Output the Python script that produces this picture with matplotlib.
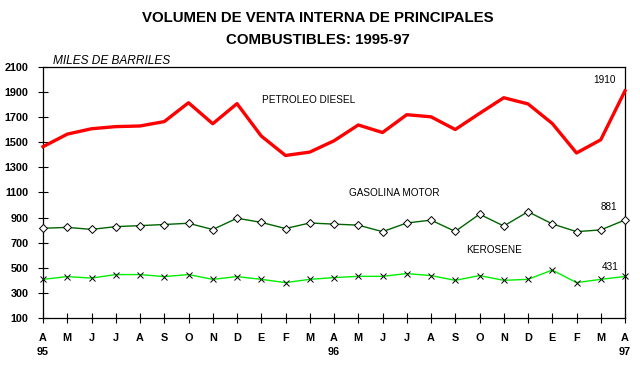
import matplotlib
matplotlib.use("Agg")
import matplotlib.pyplot as plt

months = ["A", "M", "J", "J", "A", "S", "O", "N", "D", "E", "F", "M",
          "A", "M", "J", "J", "A", "S", "O", "N", "D", "E", "F", "M", "A"]
year_labels = {0: "95", 12: "96", 24: "97"}

diesel = [1465, 1565, 1608, 1625, 1630, 1665, 1815, 1648, 1808, 1550, 1395, 1422,
          1512, 1638, 1578, 1720, 1703, 1602, 1730, 1855, 1806, 1650, 1415, 1520, 1910]
gasolina = [815, 822, 806, 828, 836, 845, 855, 805, 895, 862, 813, 857,
            848, 840, 788, 857, 880, 790, 927, 833, 947, 850, 788, 802, 881]
kerosene = [408, 430, 418, 446, 446, 430, 446, 408, 430, 408, 382, 408,
            422, 432, 432, 454, 438, 400, 438, 400, 408, 482, 382, 408, 431]

plt.rcParams['font.family'] = ['Liberation Sans', 'DejaVu Sans']

fig = plt.figure(figsize=(6.4, 3.68), dpi=100)
ax = fig.add_axes([43/640, 1-318/368, (625-43)/640, (318-67)/368])

x = list(range(len(months)))
ax.plot(x, diesel, color='#ff0000', lw=2.4, clip_on=False, zorder=3)
ax.plot(x, gasolina, color='#006400', lw=1.0, marker='D', markersize=4.5,
        markerfacecolor='white', markeredgecolor='black', markeredgewidth=0.7,
        clip_on=False, zorder=3)
ax.plot(x, kerosene, color='#00ee00', lw=1.0, marker='x', markersize=4.5,
        markeredgecolor='black', markeredgewidth=0.7, clip_on=False, zorder=3)

ax.set_xlim(0, 24)
ax.set_ylim(100, 2100)
ax.set_yticks(range(100, 2101, 200))
ax.set_yticklabels([str(v) for v in range(100, 2101, 200)], fontweight='bold', fontsize=7.8)
ax.set_xticks(x)
ax.set_xticklabels(months, fontweight='bold', fontsize=7.8)
ax.tick_params(axis='x', direction='inout', length=7, width=0.8, pad=7)
ax.tick_params(axis='y', direction='inout', length=7, width=0.8, pad=7)
for s in ax.spines.values():
    s.set_linewidth(0.9)

for i, lab in year_labels.items():
    ax.text(i, -0.135, lab, transform=ax.get_xaxis_transform(), ha='center', va='center',
            fontweight='bold', fontsize=7.8)

fig.text(0.497, 1-18/368, "VOLUMEN DE VENTA INTERNA DE PRINCIPALES", ha='center', va='center',
         fontweight='bold', fontsize=10.8)
fig.text(0.497, 1-40/368, "COMBUSTIBLES: 1995-97", ha='center', va='center',
         fontweight='bold', fontsize=10.8)
fig.text(53/640, 1-61/368, "MILES DE BARRILES", ha='left', va='center', style='italic', fontsize=8.6)

def lbl(px, py, s, ha='left'):
    fig.text(px/640, 1-py/368, s, ha=ha, va='center', fontsize=7.2)

lbl(262, 100, "PETROLEO DIESEL")
lbl(349, 193, "GASOLINA MOTOR")
lbl(466, 250, "KEROSENE")
lbl(616, 80, "1910", ha='right')
lbl(617, 207, "881", ha='right')
lbl(619, 267, "431", ha='right')

fig.savefig("out.png", dpi=100)
